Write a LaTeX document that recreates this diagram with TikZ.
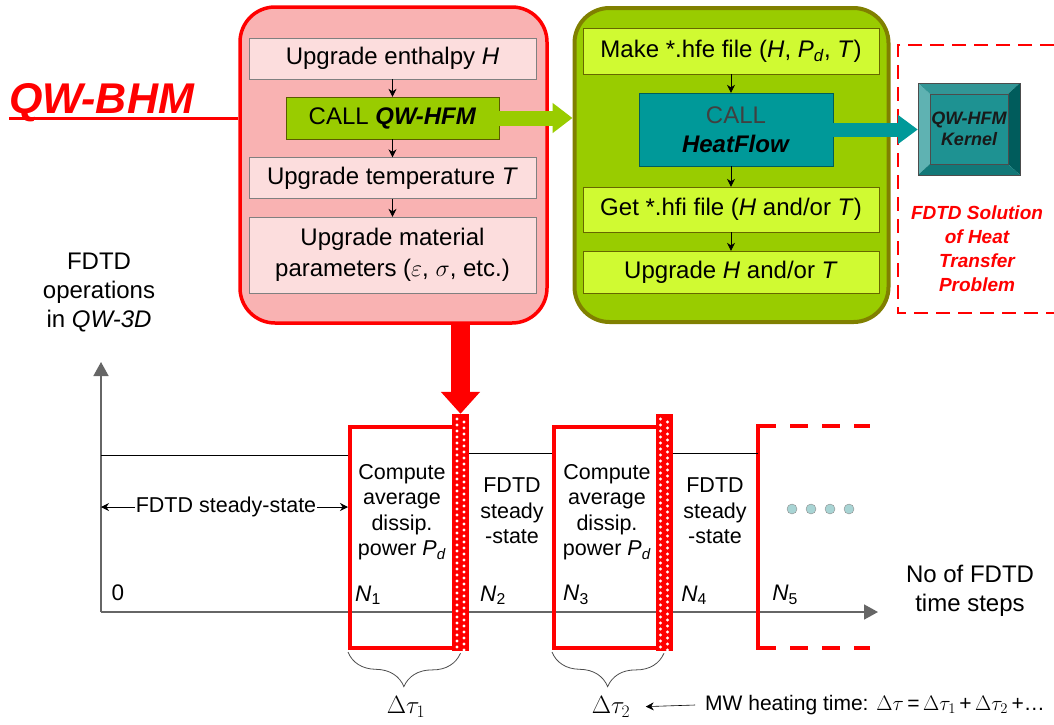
\RequirePackage{fix-cm}
\documentclass[tikz,border=0pt]{standalone}
\usepackage{fontspec}
\setmainfont{Liberation Sans}
\usetikzlibrary{arrows.meta,positioning,decorations.pathreplacing}
\definecolor{bhmred}{RGB}{255,0,0}
\definecolor{bhmpink}{RGB}{249,178,178}
\definecolor{stepink}{RGB}{252,221,221}
\definecolor{hfmgreen}{RGB}{153,204,0}
\definecolor{hfmolive}{RGB}{128,128,0}
\definecolor{hfmlime}{RGB}{208,250,50}
\definecolor{hfteal}{RGB}{0,153,153}
\definecolor{dotblue}{RGB}{168,212,212}

\begin{document}
\begin{tikzpicture}[x=1pt,y=-1pt,
  f24/.style={font=\fontsize{24}{29}\selectfont},
  f22/.style={font=\fontsize{22.5}{27}\selectfont},
  f21/.style={font=\fontsize{21.5}{25.5}\selectfont},
  pinkstep/.style={draw=gray,fill=stepink,f24,minimum width=287pt,inner sep=1pt,align=center},
  limestep/.style={draw=hfmolive!80!black,fill=hfmlime,f24,minimum width=296pt,inner sep=1pt,align=center},
  smallarr/.style={-{Stealth[length=8pt,width=8pt]},thick},
  redcell/.style={draw=bhmred,line width=4pt,minimum width=104pt,minimum height=221pt,inner sep=0pt},
  axis/.style={draw=black!60,line width=1.6pt,-{Triangle[length=14pt,width=15pt]}}]
\useasboundingbox (0,0) rectangle (1054,724);

% upper part: QW-BHM and QW-HFM
\node[draw=bhmred,fill=bhmpink,line width=3.5pt,rounded corners=35pt,minimum width=307pt,minimum height=316pt] (bhm) at (393.5,165) {};
\node[draw=hfmolive,fill=hfmgreen,line width=4pt,rounded corners=35pt,minimum width=314pt,minimum height=314pt] (hfm) at (731.5,165) {};

\node[bhmred,anchor=base west,inner sep=0pt,font=\fontsize{43}{50}\bfseries\itshape] (qwbhm) at (9,113) {QW-BHM};
\coordinate (ul) at (9,118);
\draw[bhmred,line width=3pt] (ul) -- (ul -| bhm.west);

\node[pinkstep,minimum height=41pt] (enth) at (392.5,58.5) {Upgrade enthalpy \textit{H}};
\node[draw=hfmolive!70!black,fill=hfmgreen,f24,minimum width=213pt,minimum height=42pt] (callqw) at (392.5,118) {CALL \textbf{\textit{QW-HFM}}};
\node[pinkstep,minimum height=41pt] (temp) at (392.5,178) {Upgrade temperature \textit{T}};
\node[pinkstep,minimum height=76pt,font=\fontsize{24}{31}\selectfont] (mat) at (392.5,255) {Upgrade material\\parameters ($\varepsilon$, $\sigma$, etc.)};
\draw[smallarr] (enth) -- (callqw);
\draw[smallarr] (callqw) -- (temp);
\draw[smallarr] (temp) -- (mat);

\node[limestep,minimum height=46pt] (mkfile) at (731,51) {Make *.hfe file (\textit{H}, \textit{P}\textsubscript{\textit{d}}, \textit{T})};
\node[draw=hfteal!60!black,fill=hfteal,f24,align=center,minimum width=194pt,minimum height=73pt] (hf) at (736,129.5) {\textcolor{black!75}{CALL}\\\textbf{\textit{HeatFlow}}};
\node[limestep,minimum height=45pt] (getfile) at (731,209.5) {Get *.hfi file (\textit{H} and/or \textit{T})};
\node[limestep,minimum height=42pt] (upd) at (731,272) {Upgrade \textit{H} and/or \textit{T}};
\draw[smallarr] (mkfile.south) -- (mkfile.south |- hf.north);
\draw[smallarr] (mkfile.south |- hf.south) -- (getfile.north);
\draw[smallarr] (getfile) -- (upd);

\draw[hfmgreen,line width=15pt,-{Triangle[length=20pt,width=29pt]}] (callqw.east) -- (callqw.east -| hfm.west);

% kernel
\draw[bhmred,line width=2.5pt,dash pattern=on 14pt off 8pt] (1054,45) -- (898,45) -- (898,313) -- (1054,313);
\fill[fill={rgb,255:red,95;green,178;blue,178}] (918,83) -- (930,94) -- (930,164) -- (918,175) -- cycle;
\fill[fill={rgb,255:red,50;green,150;blue,150}] (918,83) -- (1020,83) -- (1008,94) -- (930,94) -- cycle;
\fill[fill={rgb,255:red,0;green,92;blue,92}] (1020,83) -- (1020,175) -- (1008,164) -- (1008,94) -- cycle;
\fill[fill={rgb,255:red,18;green,120;blue,120}] (918,175) -- (930,164) -- (1008,164) -- (1020,175) -- cycle;
\fill[fill={rgb,255:red,30;green,146;blue,146}] (930,94) rectangle (1008,164);
\draw[black!70] (918,83) rectangle (1020,175) (930,94) rectangle (1008,164);
\node[minimum width=102pt,minimum height=92pt,align=center,font=\fontsize{18}{21}\bfseries\itshape,text=black!90] (kernel) at (969,129) {QW-HFM\\Kernel};
\draw[hfteal,line width=14pt,-{Triangle[length=20pt,width=28pt]}] (hf.east) -- (hf.east -| kernel.west);
\node[bhmred,align=center,font=\fontsize{19}{24}\bfseries\itshape] (sol) at (977,249) {FDTD Solution\\of Heat\\Transfer\\Problem};

\node[f24,align=center] (ops) at (99,293) {FDTD\\operations\\in \textit{QW-3D}};

% lower part: time steps
\coordinate (o) at (101,612);
\draw[axis] (o) -- (101,362);
\draw[axis] (o) -- (878,612);

\node[redcell] (cell1) at (402,537.5) {};
\node[redcell] (cell2) at (606,537.5) {};
\foreach \sx/\nm in {460.5/s1,664/s2}{
  \node[fill=bhmred,minimum width=17pt,minimum height=237pt,inner sep=0pt] (\nm) at (\sx,532.5) {};
  \foreach \k in {0,...,38}{
    \fill[white] (\sx-3.5,419+6*\k) circle (1.6);
    \fill[white] (\sx+3.5,422+6*\k) circle (1.6);
  }
}
\draw[bhmred,line width=4pt] (870,648) -- (758,648) -- (758,426) -- (870,426);
\draw[white,line width=5pt,dash pattern=on 0pt off 18pt on 14pt off 0pt] (758,426) -- (870,426) (758,648) -- (870,648);

\draw[black,thick] (101,455) -- (cell1.west |- 0,455);
\draw[black,thick] (s1.east |- 0,453) -- (cell2.west |- 0,453);
\draw[black,thick] (s2.east |- 0,453) -- (758,453);

\draw[bhmred,line width=19pt,-{Triangle[length=22pt,width=38pt]}] (bhm.south -| s1.north) -- (s1.north);

\node[f21,align=center] (comp1) at (402,512) {Compute\\average\\dissip.\\power \textit{P}\textsubscript{\textit{d}}};
\node[f21,align=center] (comp2) at (607,512) {Compute\\average\\dissip.\\power \textit{P}\textsubscript{\textit{d}}};
\node[f21,align=center] (ss1) at (512,511) {FDTD\\steady\\-state};
\node[f21,align=center] (ss2) at (715,511) {FDTD\\steady\\-state};
\foreach \dx in {792,811,830,849}
  \draw[black!45,fill=dotblue] (\dx,509) circle (5);

\node[f21,inner sep=1pt] (sslab) at (226,507) {FDTD steady-state};
\draw[smallarr,semithick] (sslab.west) -- (sslab.west -| o) ;
\draw[smallarr,semithick] (sslab.east) -- (sslab.east -| cell1.west);

\node[f22] (zero) at (118,593) {0};
\node[f22] (n1) at (368,595) {\textit{N}\textsubscript{1}};
\node[f22] (n2) at (493,595) {\textit{N}\textsubscript{2}};
\node[f22] (n3) at (576,595) {\textit{N}\textsubscript{3}};
\node[f22] (n4) at (694,595) {\textit{N}\textsubscript{4}};
\node[f22] (n5) at (785,595) {\textit{N}\textsubscript{5}};
\node[f24,align=center] (nsteps) at (970,591) {No of FDTD\\time steps};

\draw[black!70,thick,decorate,decoration={brace,mirror,amplitude=34pt,raise=2pt}] (cell1.south west) -- (s1.south);
\draw[black!70,thick,decorate,decoration={brace,mirror,amplitude=34pt,raise=2pt}] (cell2.south west) -- (s2.south);
\node[font=\fontsize{25}{30}\selectfont] (dt1) at (406,707) {$\Delta\tau_1$};
\node[font=\fontsize{25}{30}\selectfont] (dt2) at (611,707) {$\Delta\tau_2$};
\node[font=\fontsize{21}{25}\selectfont,anchor=west,inner sep=0pt] (mw) at (705,705) {MW heating time: $\Delta\tau$\,=\,$\Delta\tau_1$\,+\,$\Delta\tau_2$\,+\ldots};
\draw[smallarr,semithick,shorten >=12pt] ([xshift=-10pt]mw.west) -- (dt2.east);
\end{tikzpicture}
\end{document}
